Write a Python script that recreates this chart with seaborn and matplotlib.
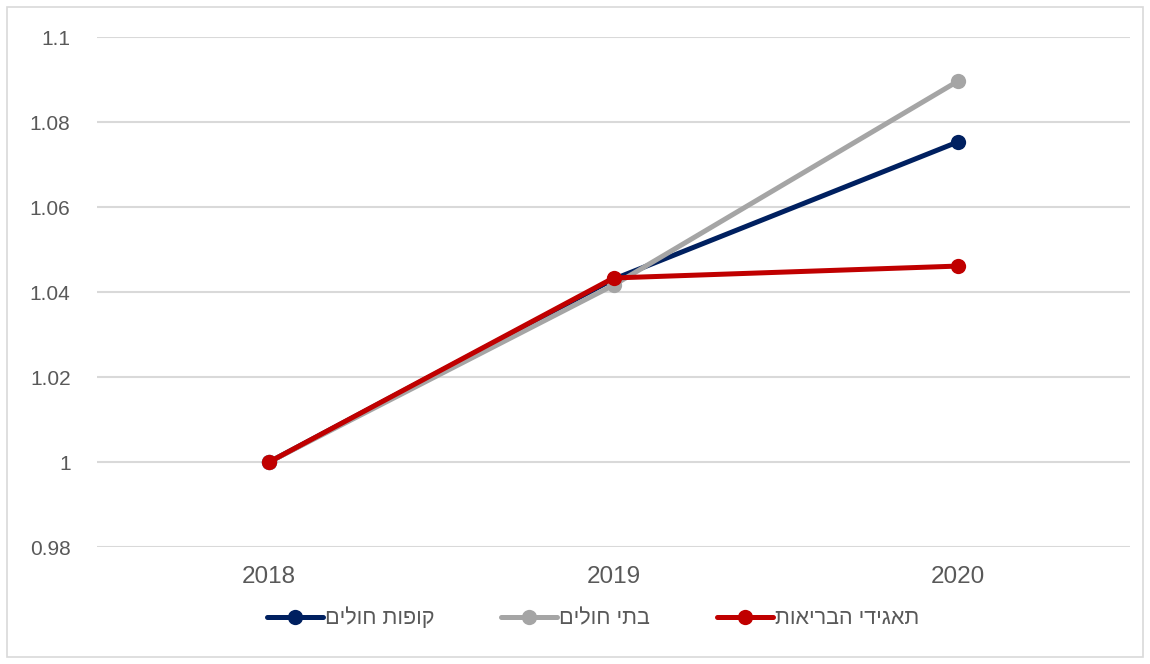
import numpy as np
import pandas as pd
import matplotlib
matplotlib.use('Agg')
import matplotlib.pyplot as plt
import seaborn as sns
from matplotlib.ticker import FuncFormatter
from matplotlib.patches import Rectangle

years = [2018, 2019, 2020]
series_names = ['קופות חולים', 'בתי חולים', 'תאגידי הבריאות']
kupot = [1.0, 1.0430, 1.0753]
hospitals = [1.0, 1.0416, 1.0896]
corporations = [1.0, 1.0433, 1.0461]
colors = ['#002060', '#A5A5A5', '#C00000']

# matplotlib has no bidi support, so flip the hebrew strings for display
def rtl(s):
    return s[::-1]

df = pd.DataFrame({
    'year': years * 3,
    'value': kupot + hospitals + corporations,
    'series': [rtl(n) for n in series_names for _ in years],
})

sns.set_style('white')
plt.rcParams['font.family'] = ['Liberation Sans', 'DejaVu Sans']

fig = plt.figure(figsize=(11.5, 6.64), dpi=100)
ax = fig.add_axes([97 / 1150, 1 - 547 / 664, (1130 - 97) / 1150, (547 - 37) / 664])

sns.lineplot(data=df, x='year', y='value', hue='series',
             palette=dict(zip([rtl(n) for n in series_names], colors)),
             marker='o', markersize=11, markeredgewidth=0, linewidth=3.6,
             ax=ax, legend=False)

ax.set_xlim(2017.5, 2020.5)
ax.set_ylim(0.98, 1.1)
ax.set_xticks(years)
ax.set_yticks(np.arange(0.98, 1.1001, 0.02))
ax.yaxis.set_major_formatter(FuncFormatter(lambda v, p: f'{round(v, 2):g}'))
ax.grid(axis='y', color='#D9D9D9', linewidth=1.5)
ax.set_axisbelow(True)
for sp in ax.spines.values():
    sp.set_visible(False)
ax.tick_params(axis='both', length=0, colors='#595959')
ax.tick_params(axis='y', pad=19, labelsize=15)
ax.tick_params(axis='x', pad=14, labelsize=17.5)
ax.set_xlabel('')
ax.set_ylabel('')

handles = [plt.Line2D([], [], color=c, linewidth=3.6, marker='o', markersize=11,
                      markeredgewidth=0) for c in colors]
ax.legend(handles, [rtl(n) for n in series_names], ncol=3, frameon=False,
          loc='center', bbox_to_anchor=(0.48, -0.14), fontsize=15.5,
          handlelength=2.6, handletextpad=0.1, columnspacing=3.1,
          labelcolor='#595959')

fig.patches.append(Rectangle((7 / 1150, 7 / 664), 1 - 14 / 1150, 1 - 14 / 664,
                             transform=fig.transFigure, fill=False,
                             edgecolor='#D9D9D9', linewidth=1.2))

fig.savefig('out.png', dpi=100)
